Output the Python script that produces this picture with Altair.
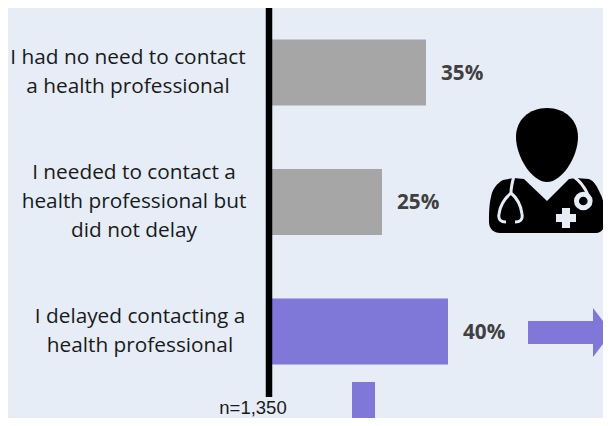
import altair as alt
import pandas as pd

BG = "#e6edf7"
PURPLE = "#7f78d9"
categories = ["I had no need to contact a health professional",
              "I needed to contact a health professional but did not delay",
              "I delayed contacting a health professional"]
values = [35, 25, 40]
value_labels = ["35%", "25%", "40%"]
bar_colors = ["#a6a6a6", "#a6a6a6", PURPLE]
wrapped = [["I had no need to contact", "a health professional"],
           ["I needed to contact a", "health professional but", "did not delay"],
           ["I delayed contacting a", "health professional"]]
label_centres = [120, 126, 132]
LINE = 29

# The page adds an 8px margin on every side, so the chart itself is 595x410 and starts at (8, 8)
W, H = 595, 410
ZERO, PX_PER_PCT = 264, 4.4
x_scale = alt.Scale(domain=[-ZERO / PX_PER_PCT, (W - ZERO) / PX_PER_PCT], nice=False, zero=False)
y_scale = alt.Scale(domain=categories, range=[-0.25, 388.25], paddingInner=0, paddingOuter=0)
x_enc = alt.X("v:Q", scale=x_scale, axis=None)
y_enc = alt.Y("cat:N", scale=y_scale, sort=None, axis=None)

df = pd.DataFrame({"cat": categories, "v": values, "lab": value_labels,
                   "color": bar_colors, "wrapped": wrapped})
one = pd.DataFrame({"a": [0]})

bars = alt.Chart(df).mark_bar(size=66).encode(
    x=x_enc, x2=alt.datum(0), y=y_enc, color=alt.Color("color:N", scale=None))
vals = alt.Chart(df).mark_text(align="left", baseline="middle", dx=15, dy=1, font="Open Sans",
    fontSize=20.7, fontWeight="bold", color="#404040").encode(x=x_enc, y=y_enc, text="lab:N")

cat_layers = [
    alt.Chart(df.iloc[[i]]).mark_text(align="center", baseline="middle", font="Open Sans",
        fontSize=20.8, lineHeight=LINE, dy=-(len(wrapped[i]) - 1) * LINE / 2, color="#1a1a1a").encode(
        x=alt.value(label_centres[i]), y=y_enc, text="wrapped")
    for i in range(3)
]

axis_line = alt.Chart(one).mark_rule(color="black", strokeWidth=6.5).encode(
    x=alt.value(261), y=alt.value(-1), y2=alt.value(389))
n_text = alt.Chart(one).mark_text(text="n=1,350", align="center", baseline="middle",
    font="Liberation Sans", fontSize=18.5, color="#1a1a1a").encode(x=alt.value(245), y=alt.value(400))

right_arrow = alt.Chart(one).mark_point(
    shape="M528 321 L593 321 L593 308 L612 332.5 L593 357 L593 344 L528 344 Z",
    size=4, filled=True, opacity=1, color=PURPLE, stroke=None).encode(x=alt.value(-8), y=alt.value(-8))
down_stub = alt.Chart(one).mark_rect(color=PURPLE).encode(
    x=alt.value(344), x2=alt.value(367), y=alt.value(374), y2=alt.value(418))

def fill(path, colour):
    return alt.Chart(one).mark_point(shape=path, size=4, filled=True, opacity=1, color=colour,
        stroke=None).encode(x=alt.value(-8), y=alt.value(-8))

def line(path, width):
    return alt.Chart(one).mark_point(shape=path, size=4, filled=False, opacity=1, color=BG,
        strokeWidth=width).encode(x=alt.value(-8), y=alt.value(-8))

head = fill("M547 108 C565 108 578 120 578 137 C578 157 562 182 547 182 "
            "C532 182 516 157 516 137 C516 120 529 108 547 108 Z", "black")
body = fill("M503 180 C497 183 492 190 491 197 C489 205 489 215 489 222 C489 229 494 233 500 233 "
            "L596 233 C601 233 605 229 605 222 C605 210 604 200 600 193 C597 186 594 181 589 179 "
            "L576 178 L569 179 L547 201 L524 179 L514 178 Z", "black")
steth_left = line("M514 176 C512 183 511 190 511 193 C505 198 500 206 499 214 C498 220 501 222 506 222 "
                  "M511 193 C517 198 521 206 522 214 C523 220 520 222 515 222", 3)
steth_right = line("M574 177 C580 181 585 188 588 195", 3)
ring = line("M590.1 201 A6.8 6.8 0 1 0 576.5 201 A6.8 6.8 0 1 0 590.1 201 Z", 5)
cross = fill("M562 208 L570 208 L570 214 L576 214 L576 222 L570 222 L570 228 L562 228 "
             "L562 222 L556 222 L556 214 L562 214 Z", BG)

chart = alt.layer(bars, vals, *cat_layers, axis_line, n_text, right_arrow, down_stub,
                  body, head, steth_left, steth_right, ring, cross).properties(
    width=W, height=H, padding=0,
    autosize=alt.AutoSizeParams(type="none"), background=BG).configure_view(stroke=None)
chart.save("out.html", embed_options={"renderer": "svg", "actions": False})
